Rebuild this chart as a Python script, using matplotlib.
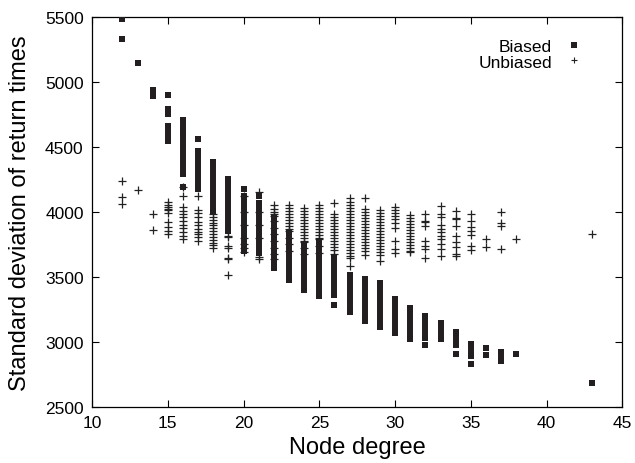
import matplotlib
matplotlib.use("Agg")
import matplotlib.pyplot as plt
from matplotlib.lines import Line2D

# Biased: runs of stacked points per node degree, as (degree, top, bottom)
biased_deg = [12, 12, 13, 14, 15, 15, 15, 16, 16, 16, 17, 17, 18, 19, 20, 20,
              21, 21, 22, 23, 24, 25, 26, 26, 27, 28, 29, 30, 31, 32, 32, 33,
              34, 34, 35, 35, 36, 36, 37, 38, 43]
biased_hi = [5487, 5331, 5150, 4940, 4902, 4790, 4665, 4705, 4590, 4190, 4562,
             4473, 4381, 4250, 4177, 4120, 4123, 4066, 3950, 3835, 3750, 3773,
             3642, 3285, 3512, 3481, 3450, 3327, 3258, 3196, 2977, 3142, 3073,
             2908, 2981, 2831, 2954, 2900, 2919, 2908, 2685]
biased_lo = [5487, 5331, 5150, 4896, 4902, 4755, 4550, 4640, 4295, 4190, 4562,
             4173, 4004, 3850, 4177, 3696, 4123, 3681, 3565, 3480, 3396, 3350,
             3358, 3285, 3227, 3158, 3112, 3065, 3019, 3027, 2977, 3019, 2973,
             2908, 2888, 2831, 2954, 2900, 2850, 2908, 2685]

# Unbiased: individual points per node degree
unbiased = {
    12: [4240, 4115, 4062],
    13: [4170],
    14: [3985, 3860],
    15: [4077, 4054, 4038, 4023, 4015, 3992, 3923, 3885, 3854, 3831],
    16: [4192, 4123, 4038, 4008, 3985, 3962, 3931, 3900, 3877, 3846, 3815, 3792],
    17: [4123, 4015, 3992, 3962, 3923, 3900, 3869, 3846, 3831, 3808, 3777],
    18: [3985, 3962, 3938, 3915, 3900, 3877, 3854, 3831, 3808, 3785, 3762,
         3746, 3723],
    19: [3815, 3808, 3738, 3723, 3646, 3638, 3515],
    20: [4120, 4000, 3900, 3800, 3754, 3723, 3692],
    21: [4150, 4000, 3900, 3800, 3654, 3638],
    22: [4054, 4023, 4000, 3985, 3969, 3930, 3880, 3830, 3780, 3720, 3680, 3640],
    23: [4054, 4030, 4008, 3985, 3962, 3938, 3915, 3892, 3869, 3854, 3800,
         3750, 3700],
    24: [4031, 4008, 3985, 3962, 3938, 3915, 3892, 3869, 3846, 3823, 3800,
         3777, 3769, 3720, 3680],
    25: [4054, 4031, 4008, 3985, 3962, 3938, 3915, 3892, 3869, 3846, 3823,
         3800, 3792, 3740, 3685],
    26: [4069, 3985, 3962, 3938, 3915, 3892, 3869, 3846, 3823, 3800, 3777,
         3754, 3731, 3708, 3677],
    27: [4108, 4077, 4054, 4031, 4008, 3985, 3962, 3938, 3915, 3892, 3869,
         3846, 3823, 3800, 3777, 3754, 3731, 3708, 3685, 3662, 3646, 3585],
    28: [4108, 4023, 4000, 3977, 3954, 3931, 3908, 3885, 3862, 3838, 3815,
         3792, 3769, 3746, 3723, 3700, 3669],
    29: [4015, 3992, 3969, 3946, 3923, 3900, 3877, 3854, 3831, 3808, 3785,
         3762, 3738, 3715, 3692, 3669, 3623],
    30: [4038, 4015, 3992, 3969, 3946, 3915, 3877, 3777, 3715, 3685],
    31: [3977, 3954, 3931, 3908, 3885, 3862, 3838, 3815, 3792, 3769, 3746,
         3723, 3700, 3692],
    32: [3985, 3931, 3923, 3892, 3777, 3738, 3715, 3646],
    33: [4046, 3985, 3962, 3900, 3869, 3846, 3815, 3792, 3754, 3715, 3662],
    34: [4008, 3954, 3946, 3892, 3815, 3769, 3731, 3677, 3662],
    35: [3985, 3931, 3885, 3854, 3823, 3738, 3708],
    36: [3792, 3731],
    37: [4000, 3915, 3892, 3715],
    38: [3792],
    43: [3831],
}

plt.rcParams["font.family"] = ["Liberation Sans", "DejaVu Sans"]

fig = plt.figure(figsize=(6.35, 4.64), dpi=100)
ax = fig.add_axes([0.145, 0.121, 0.835, 0.84])

ux = [d for d, vals in unbiased.items() for _ in vals]
uy = [v for vals in unbiased.values() for v in vals]
ax.plot(ux, uy, "+", color="#222222", ms=5.5, mew=0.9, zorder=2)

sq = 4.3
ax.vlines(biased_deg, biased_lo, biased_hi, color="#231f20", lw=sq, zorder=3)
ax.plot(biased_deg + biased_deg, biased_hi + biased_lo, "s", color="#231f20",
        ms=sq, mew=0, zorder=3)

ax.set_xlim(10, 45)
ax.set_ylim(2500, 5500)
ax.set_xticks(range(10, 46, 5))
ax.set_yticks(range(2500, 5501, 500))
ax.tick_params(direction="in", top=True, right=True, length=5, width=0.8,
               labelsize=12.5, pad=6)
for s in ax.spines.values():
    s.set_linewidth(0.9)
ax.set_xlabel("Node degree", fontsize=17, labelpad=4)
ax.set_ylabel("Standard deviation of return times", fontsize=17, labelpad=10)

handles = [
    Line2D([], [], ls="none", marker="s", color="#231f20", ms=4.0, mew=0),
    Line2D([], [], ls="none", marker="+", color="#222222", ms=4.5, mew=0.8),
]
ax.legend(handles, ["Biased", "Unbiased"], loc="upper right",
          bbox_to_anchor=(0.939, 0.962), borderaxespad=0, frameon=False,
          markerfirst=False, fontsize=12.5, handlelength=1.0,
          handletextpad=0.8, labelspacing=0.02, borderpad=0.4)

fig.savefig("out.png", dpi=100)
